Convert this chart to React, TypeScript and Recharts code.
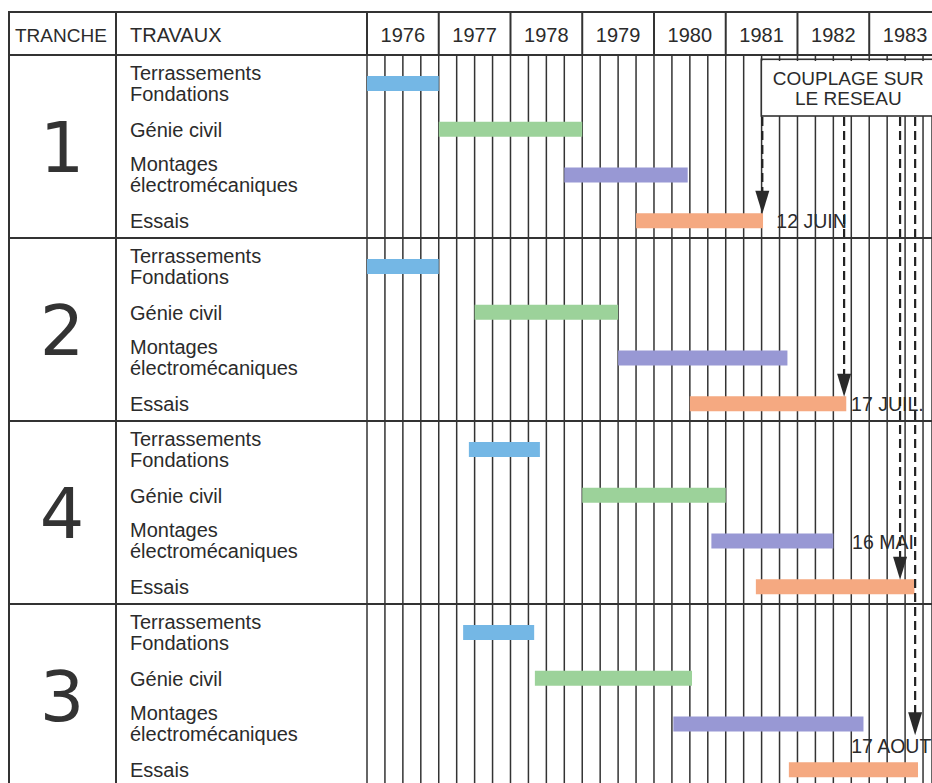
import { Bar, BarChart, CartesianGrid, Cell, ReferenceLine, XAxis, YAxis } from 'recharts';

const YEARS = [1976, 1977, 1978, 1979, 1980, 1981, 1982, 1983];
const TRANCHES = ['1', '2', '4', '3'];
const TASKS = [
  ['Terrassements', 'Fondations'],
  ['Génie civil'],
  ['Montages', 'électromécaniques'],
  ['Essais'],
];

// [start, end] in decimal years, one entry per tranche (same order as TRANCHES)
const TERRASSEMENTS = [[1976, 1977], [1976, 1977], [1977.42, 1978.41], [1977.34, 1978.33]];
const GENIE_CIVIL = [[1977, 1979], [1977.5, 1979.5], [1979, 1981], [1978.34, 1980.53]];
const MONTAGES = [[1978.75, 1980.47], [1979.5, 1981.86], [1980.8, 1982.5], [1980.27, 1982.92]];
const ESSAIS = [[1979.75, 1981.52], [1980.5, 1982.68], [1981.42, 1983.63], [1981.88, 1983.68]];

// couplage sur le réseau, per tranche
const COUPLAGE_DATES = [1981.51, 1982.65, 1983.43, 1983.64];
const COUPLAGE_LABELS = ['12 JUIN', '17 JUIL.', '16 MAI', '17 AOUT'];

// the original page is cut just before the end of 1983
const VIEW_END = 1983.875;

const TASK_COLORS = ['#74b7e5', '#9cd29a', '#9898d4', '#f5a981'];
const INK = '#2b2b2b';
const LINE = '#333';
const FONT = "'Liberation Sans', Arial, Helvetica, sans-serif";

const W = 924;
const H = 785;
const ROW_H = 45.75;
const SECTION_GAP = 6;
const HEADER_TOP = 4;
const HEADER_BOTTOM = 47;
const PLOT_TOP = 53;
const BOX_TOP = 51.3;
const BOX_BOTTOM = 108;
const BOX_W = 178;
const LABEL_X = 122;

// label placement for each couplage arrow
const MILESTONE_STYLE = [
  { tip: -7.5, dx: 14, dy: 7 },
  { tip: -7.5, dx: 7, dy: 7 },
  { tip: -7.5, dx: -48, dy: -38.5 },
  { tip: -35, dx: -64, dy: -17 },
];

const SPANS = [TERRASSEMENTS, GENIE_CIVIL, MONTAGES, ESSAIS];

const rows = TRANCHES.flatMap((t, ti) =>
  SPANS.map((spans, k) => ({ id: `${t}-${k}`, tranche: t, task: k, span: spans[ti] }))
);

const xTicks = YEARS.flatMap((y) => [y, y + 0.25, y + 0.5, y + 0.75]).filter((v) => v <= VIEW_END);

function YearTick({ x, payload }: any) {
  const v = payload.value as number;
  const frac = v - Math.floor(v);
  return (
    <g>
      <line x1={x} x2={x} y1={HEADER_BOTTOM} y2={PLOT_TOP} stroke={LINE} strokeWidth={1.5} />
      {frac === 0 && (
        <line x1={x} x2={x} y1={HEADER_TOP} y2={HEADER_BOTTOM} stroke={LINE} strokeWidth={2} />
      )}
      {frac === 0.5 && (
        <text x={x} y={34} textAnchor="middle" fontSize={20} fontFamily={FONT} fill={INK}>
          {Math.floor(v)}
        </text>
      )}
    </g>
  );
}

function TaskTick({ y, payload }: any) {
  const row = rows.find((r) => r.id === payload.value);
  if (!row) return null;
  const lines = TASKS[row.task];
  const top = y - ROW_H / 2 - SECTION_GAP;
  return (
    <g fontFamily={FONT} fill={INK}>
      {lines.length === 1 ? (
        <text x={LABEL_X} y={y + 7} fontSize={20}>
          {lines[0]}
        </text>
      ) : (
        <text fontSize={20}>
          <tspan x={LABEL_X} y={y - 4}>{lines[0]}</tspan>
          <tspan x={LABEL_X} y={y + 16.7}>{lines[1]}</tspan>
        </text>
      )}
      {row.task === 0 && (
        <g>
          <line x1={0} x2={W} y1={top} y2={top} stroke={LINE} strokeWidth={2} />
          <line x1={1} x2={1} y1={top} y2={top + 4 * ROW_H} stroke={LINE} strokeWidth={2} />
          <line x1={108} x2={108} y1={top} y2={top + 4 * ROW_H} stroke={LINE} strokeWidth={2} />
          <text
            x={54}
            y={top + 2 * ROW_H + 25.5}
            textAnchor="middle"
            fontSize={70}
            fontFamily="'DejaVu Sans', sans-serif"
            fill="#333"
          >
            {row.tranche}
          </text>
        </g>
      )}
      {row.id === rows[0].id && (
        <g>
          <line x1={0} x2={W} y1={HEADER_TOP} y2={HEADER_TOP} stroke={LINE} strokeWidth={2} />
          <line x1={1} x2={1} y1={HEADER_TOP} y2={HEADER_BOTTOM} stroke={LINE} strokeWidth={2} />
          <line x1={108} x2={108} y1={HEADER_TOP} y2={HEADER_BOTTOM} stroke={LINE} strokeWidth={2} />
          <text x={7} y={34} fontSize={19}>TRANCHE</text>
          <text x={LABEL_X} y={34} fontSize={20}>TRAVAUX</text>
        </g>
      )}
    </g>
  );
}

function MilestoneShape(props: any) {
  const { x1, y2, i } = props;
  const st = MILESTONE_STYLE[i];
  const tip = y2 + st.tip;
  return (
    <g>
      {i === 0 && (
        <g>
          <rect
            x={x1 - 1}
            y={BOX_TOP}
            width={BOX_W}
            height={BOX_BOTTOM - BOX_TOP}
            fill="#fff"
            stroke={LINE}
            strokeWidth={1.6}
          />
          <text x={x1 - 3 + BOX_W / 2} y={77} textAnchor="middle" fontSize={19} fontFamily={FONT} fill={INK}>
            COUPLAGE SUR
          </text>
          <text x={x1 - 3 + BOX_W / 2} y={97} textAnchor="middle" fontSize={19} fontFamily={FONT} fill={INK}>
            LE RESEAU
          </text>
        </g>
      )}
      <line
        x1={x1}
        x2={x1}
        y1={BOX_BOTTOM + 1}
        y2={tip - 22}
        stroke="#222"
        strokeWidth={2.2}
        strokeDasharray="9 5"
      />
      <polygon points={`${x1 - 7},${tip - 23} ${x1 + 7},${tip - 23} ${x1},${tip}`} fill="#2a2a2a" />
      <text x={x1 + st.dx} y={y2 + st.dy} fontSize={19.5} fontFamily={FONT} fill={INK}>
        {COUPLAGE_LABELS[i]}
      </text>
    </g>
  );
}

export default function App() {
  return (
    <div style={{ margin: '8px 0 0 8px', width: W, height: 775, overflow: 'hidden', background: '#fff' }}>
      <style>{'html{overflow:hidden;background:#fff}body{margin:0}'}</style>
      <BarChart
        width={W}
        height={H}
        data={rows}
        layout="vertical"
        margin={{ top: HEADER_TOP, right: 0, bottom: 0, left: 0 }}
      >
        <CartesianGrid vertical horizontal={false} stroke={LINE} strokeWidth={1.5} />
        <XAxis
          type="number"
          orientation="top"
          domain={[YEARS[0], VIEW_END]}
          ticks={xTicks}
          interval={0}
          height={PLOT_TOP - HEADER_TOP}
          axisLine={false}
          tickLine={false}
          tick={(p: any) => <YearTick {...p} />}
          allowDataOverflow
        />
        <YAxis
          type="category"
          dataKey="id"
          width={359}
          interval={0}
          axisLine={false}
          tickLine={false}
          tick={(p: any) => <TaskTick {...p} />}
        />
        <Bar dataKey="span" barSize={15} isAnimationActive={false}>
          {rows.map((r) => (
            <Cell key={r.id} fill={TASK_COLORS[r.task]} />
          ))}
        </Bar>
        {COUPLAGE_DATES.map((d, i) => (
          <ReferenceLine
            key={COUPLAGE_LABELS[i]}
            segment={[
              { x: d, y: rows[0].id },
              { x: d, y: `${TRANCHES[i]}-3` },
            ]}
            ifOverflow="visible"
            shape={(p: any) => <MilestoneShape {...p} i={i} />}
          />
        ))}
      </BarChart>
    </div>
  );
}
